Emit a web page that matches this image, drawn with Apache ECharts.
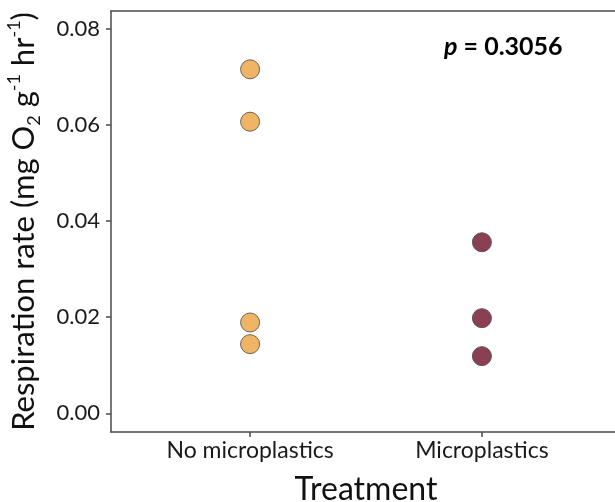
<!DOCTYPE html>
<html><head><meta charset="utf-8">
<script src="https://cdn.jsdelivr.net/npm/echarts@6/dist/echarts.min.js"></script>
<style>html,body{margin:0;padding:0;background:#fff}#c{width:615px;height:502px}</style>
</head><body><div id="c"></div>
<script>
const categories = ['No microplastics', 'Microplastics'];
const noMicroValues = [0.0716, 0.0607, 0.0189, 0.0144];
const microValues = [0.0356, 0.0198, 0.0119];
const yTicks = [0, 0.02, 0.04, 0.06, 0.08];
const pText = '0.3056';

const FONT = 'Lato';
const chart = echarts.init(document.getElementById('c'));
const catPos = categories.map((c, i) => i + 1);
const lineCol = '#4a4a4a';
chart.setOption({
  animation: false,
  grid: { left: 111, top: 11, width: 510, height: 421, containLabel: false, outerBoundsMode: 'none', show: false },
  xAxis: [{
    type: 'value', min: 0.4, max: 2.6,
    name: 'Treatment', nameLocation: 'middle', nameGap: 42,
    nameTextStyle: { fontFamily: FONT, fontSize: 32, color: '#111' },
    axisLine: { show: true, onZero: false, lineStyle: { color: lineCol, width: 1.5 } },
    axisTick: { show: true, length: 5, customValues: catPos, lineStyle: { color: lineCol, width: 1.5 } },
    axisLabel: { customValues: catPos, margin: 7, fontFamily: FONT, fontSize: 23, color: '#1a1a1a',
      formatter: v => categories[Math.round(v) - 1] || '' },
    splitLine: { show: false }
  }, {
    type: 'value', position: 'top', min: 0.4, max: 2.6,
    axisLine: { show: true, onZero: false, lineStyle: { color: lineCol, width: 1.5 } },
    axisTick: { show: false }, axisLabel: { show: false }, splitLine: { show: false }
  }],
  yAxis: {
    type: 'value', min: -0.00389, max: 0.08374,
    name: '{n|Respiration rate (mg O}{sub|2}{n| g}{sup|-1}{n| hr}{sup|-1}{n|)}',
    nameLocation: 'middle', nameGap: 68, nameRotate: 90,
    nameTextStyle: { fontFamily: FONT, fontSize: 31, color: '#111',
      rich: {
        n: { fontFamily: FONT, fontSize: 31, color: '#111', lineHeight: 38, verticalAlign: 'middle' },
        sub: { fontFamily: FONT, fontSize: 18, color: '#111', lineHeight: 38, verticalAlign: 'bottom' },
        sup: { fontFamily: FONT, fontSize: 18, color: '#111', lineHeight: 38, verticalAlign: 'top' }
      } },
    axisLine: { show: true, onZero: false, lineStyle: { color: lineCol, width: 1.5 } },
    axisTick: { show: true, length: 5, customValues: yTicks, lineStyle: { color: lineCol, width: 1.5 } },
    axisLabel: { customValues: yTicks, margin: 11, fontFamily: FONT, fontSize: 22, color: '#1a1a1a',
      formatter: v => v.toFixed(2) },
    splitLine: { show: false }
  },
  series: [
    { type: 'scatter', symbolSize: 19, xAxisIndex: 0,
      data: noMicroValues.map(v => [catPos[0], v]),
      itemStyle: { color: '#EFB466', opacity: 1, borderColor: '#6f6350', borderWidth: 1 } },
    { type: 'scatter', symbolSize: 19, xAxisIndex: 0,
      data: microValues.map(v => [catPos[1], v]),
      itemStyle: { color: '#8B3F52', opacity: 1, borderColor: '#5e5256', borderWidth: 1 } }
  ],
  graphic: [{
    type: 'text', left: 444, top: 34,
    style: { text: '{i|p}{b| = ' + pText + '}',
      rich: {
        i: { fontFamily: FONT, fontSize: 25, fontWeight: 'bold', fontStyle: 'italic', fill: '#000' },
        b: { fontFamily: FONT, fontSize: 25, fontWeight: 'bold', fill: '#000' }
      } }
  }]
});
</script></body></html>
